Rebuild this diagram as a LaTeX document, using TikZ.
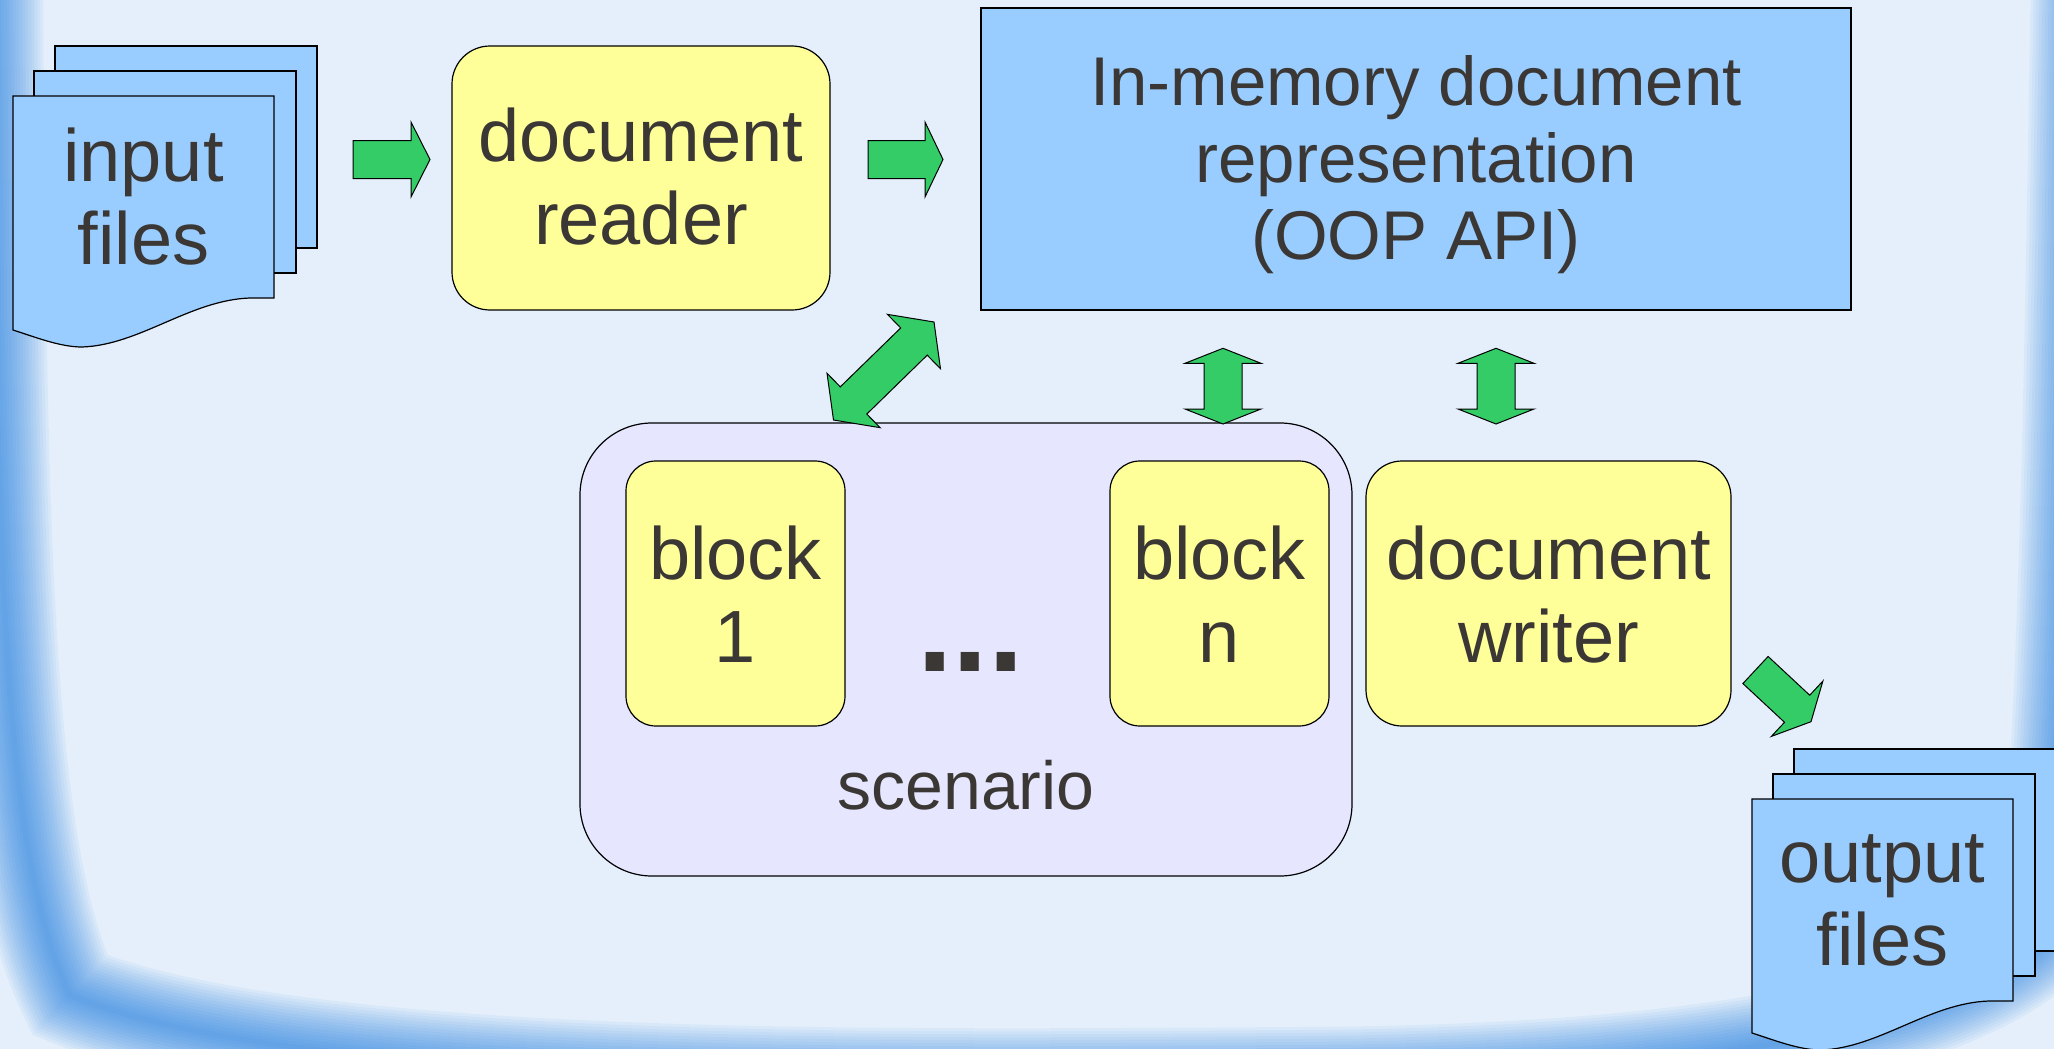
\documentclass[tikz,border=0pt]{standalone}
\usepackage{fontspec}
\setmainfont{Liberation Sans}
\usetikzlibrary{calc}
\definecolor{bgc}{RGB}{228,239,251}
\definecolor{swoosh}{RGB}{20,120,225}
\definecolor{fileblue}{RGB}{153,204,255}
\definecolor{boxyellow}{RGB}{255,255,153}
\definecolor{lav}{RGB}{230,230,255}
\definecolor{arrowgreen}{RGB}{51,204,102}
\definecolor{txt}{RGB}{58,55,52}
\tikzset{
  outline/.style={draw=black, line width=1.2pt},
  sheet/.style={outline, fill=fileblue},
  bluebox/.style={outline, fill=fileblue, rectangle, inner sep=0pt},
  yellowbox/.style={outline, fill=boxyellow, rectangle, inner sep=0pt},
  lavbox/.style={outline, fill=lav, rectangle, inner sep=0pt, rounded corners=72pt},
  blockarrow/.style={fill=arrowgreen, draw=black, line width=1pt, line join=miter},
  bigtext/.style={text=txt, align=center, font=\fontsize{74}{83}\selectfont, inner sep=0pt},
  memtext/.style={text=txt, align=center, font=\fontsize{69}{77}\selectfont, inner sep=0pt},
}
\newcommand\sarrow[5]{%
  \coordinate (tmpA) at (#1); \coordinate (tmpB) at (#2);
  \coordinate (tmpH) at ($(tmpB)!#5!(tmpA)$);
  \filldraw[blockarrow] ($(tmpA)!#3!90:(tmpB)$) -- ($(tmpH)!#3!-90:(tmpA)$) -- ($(tmpH)!#4!-90:(tmpA)$) -- (tmpB) -- ($(tmpH)!#4!90:(tmpA)$) -- ($(tmpH)!#3!90:(tmpA)$) -- ($(tmpA)!#3!-90:(tmpB)$) -- cycle;
}
\newcommand\darrow[5]{%
  \coordinate (tmpA) at (#1); \coordinate (tmpB) at (#2);
  \coordinate (tmpHa) at ($(tmpA)!#5!(tmpB)$);
  \coordinate (tmpHb) at ($(tmpB)!#5!(tmpA)$);
  \filldraw[blockarrow] (tmpA) -- ($(tmpHa)!#4!90:(tmpB)$) -- ($(tmpHa)!#3!90:(tmpB)$) -- ($(tmpHb)!#3!-90:(tmpA)$) -- ($(tmpHb)!#4!-90:(tmpA)$) -- (tmpB) -- ($(tmpHb)!#4!90:(tmpA)$) -- ($(tmpHb)!#3!90:(tmpA)$) -- ($(tmpHa)!#3!-90:(tmpB)$) -- ($(tmpHa)!#4!-90:(tmpB)$) -- cycle;
}
\newcommand\filestack[2]{%
  \begin{scope}[shift={(#1,#2)}]
    \draw[sheet] (55,46) rectangle (317,248);
    \draw[sheet] (34,71) rectangle (296,273);
    \draw[sheet] (13,96) -- (274,96) -- (274,298) -- (250,298) .. controls (190,300) and (140,345) .. (82,347) .. controls (60,347) and (35,337) .. (13,330) -- cycle;
  \end{scope}}
\begin{document}
\begin{tikzpicture}[x=1pt,y=-1pt]
\useasboundingbox (0,0) rectangle (2054,1049);
\fill[bgc] (0,0) rectangle (2054,1049);
\begin{scope}
  \clip (0,0) rectangle (2054,1049);
  \foreach \w in {6,12,...,102}{
    \draw[swoosh, line width=\w pt, opacity=0.05] (-8,-30) .. controls (-4,500) and (-2,850) .. (70,995) .. controls (300,1090) and (900,1080) .. (1300,1078) .. controls (1650,1076) and (1940,1040) .. (2048,935) .. controls (2072,700) and (2076,300) .. (2082,-30);
  }
\end{scope}

% input files
\filestack{0}{0}
\node[bigtext] (infiles) at (143.5,197) {input\\files};

% document reader
\node[yellowbox, rounded corners=38pt, minimum width=378pt, minimum height=264pt] (reader) at (641,178) {};
\node[bigtext] (readertext) at (641,177) {document\\reader};

% in-memory representation
\node[bluebox, minimum width=870pt, minimum height=302pt] (mem) at (1416,159) {};
\node[memtext] (memtext) at (1416,165) {In-memory document\\representation\\(OOP API)};

% scenario
\node[lavbox, minimum width=772pt, minimum height=453pt] (scenario) at (966,649.5) {};
\node[anchor=base, text=txt, font=\fontsize{68}{80}\selectfont, inner sep=0pt] (scentext) at (966,809) {scenario};

% blocks
\node[yellowbox, rounded corners=30pt, minimum width=219pt, minimum height=265pt] (block1) at (735.5,593.5) {};
\node[bigtext] (block1text) at (735.5,594) {block\\1};
\node[yellowbox, rounded corners=30pt, minimum width=219pt, minimum height=265pt] (blockn) at (1219.5,593.5) {};
\node[bigtext] (blockntext) at (1219.5,594) {block\\n};
\node[anchor=base, text=txt, font=\fontsize{128}{150}\selectfont\bfseries, inner sep=0pt] (dots) at (970.5,671) {...};

% document writer
\node[yellowbox, rounded corners=36pt, minimum width=365pt, minimum height=265pt] (writer) at (1548.5,593.5) {};
\node[bigtext] (writertext) at (1548.5,595) {document\\writer};

% output files
\filestack{1739}{703}
\node[bigtext] (outfiles) at (1882.5,900) {output\\files};

% arrows
\coordinate (a1s) at (353,159.5); \coordinate (a1e) at (430,159.5);
\sarrow{a1s}{a1e}{19pt}{37.5pt}{19pt}
\coordinate (a2s) at (868,159.5); \coordinate (a2e) at (943,159.5);
\sarrow{a2s}{a2e}{19pt}{37.5pt}{18pt}
\coordinate (d1a) at (833.5,420); \coordinate (d1b) at (934,322);
\darrow{d1a}{d1b}{19pt}{38pt}{28pt}
\coordinate (v1a) at (1223,424); \coordinate (v1b) at (1223,348.3);
\darrow{v1a}{v1b}{19pt}{38pt}{15pt}
\coordinate (v2a) at (1496,424); \coordinate (v2b) at (1496,348.3);
\darrow{v2a}{v2b}{19pt}{38pt}{15pt}
\coordinate (a3s) at (1755.5,670); \coordinate (a3e) at (1811,721.7);
\sarrow{a3s}{a3e}{18.5pt}{37.8pt}{19pt}
\end{tikzpicture}
\end{document}
